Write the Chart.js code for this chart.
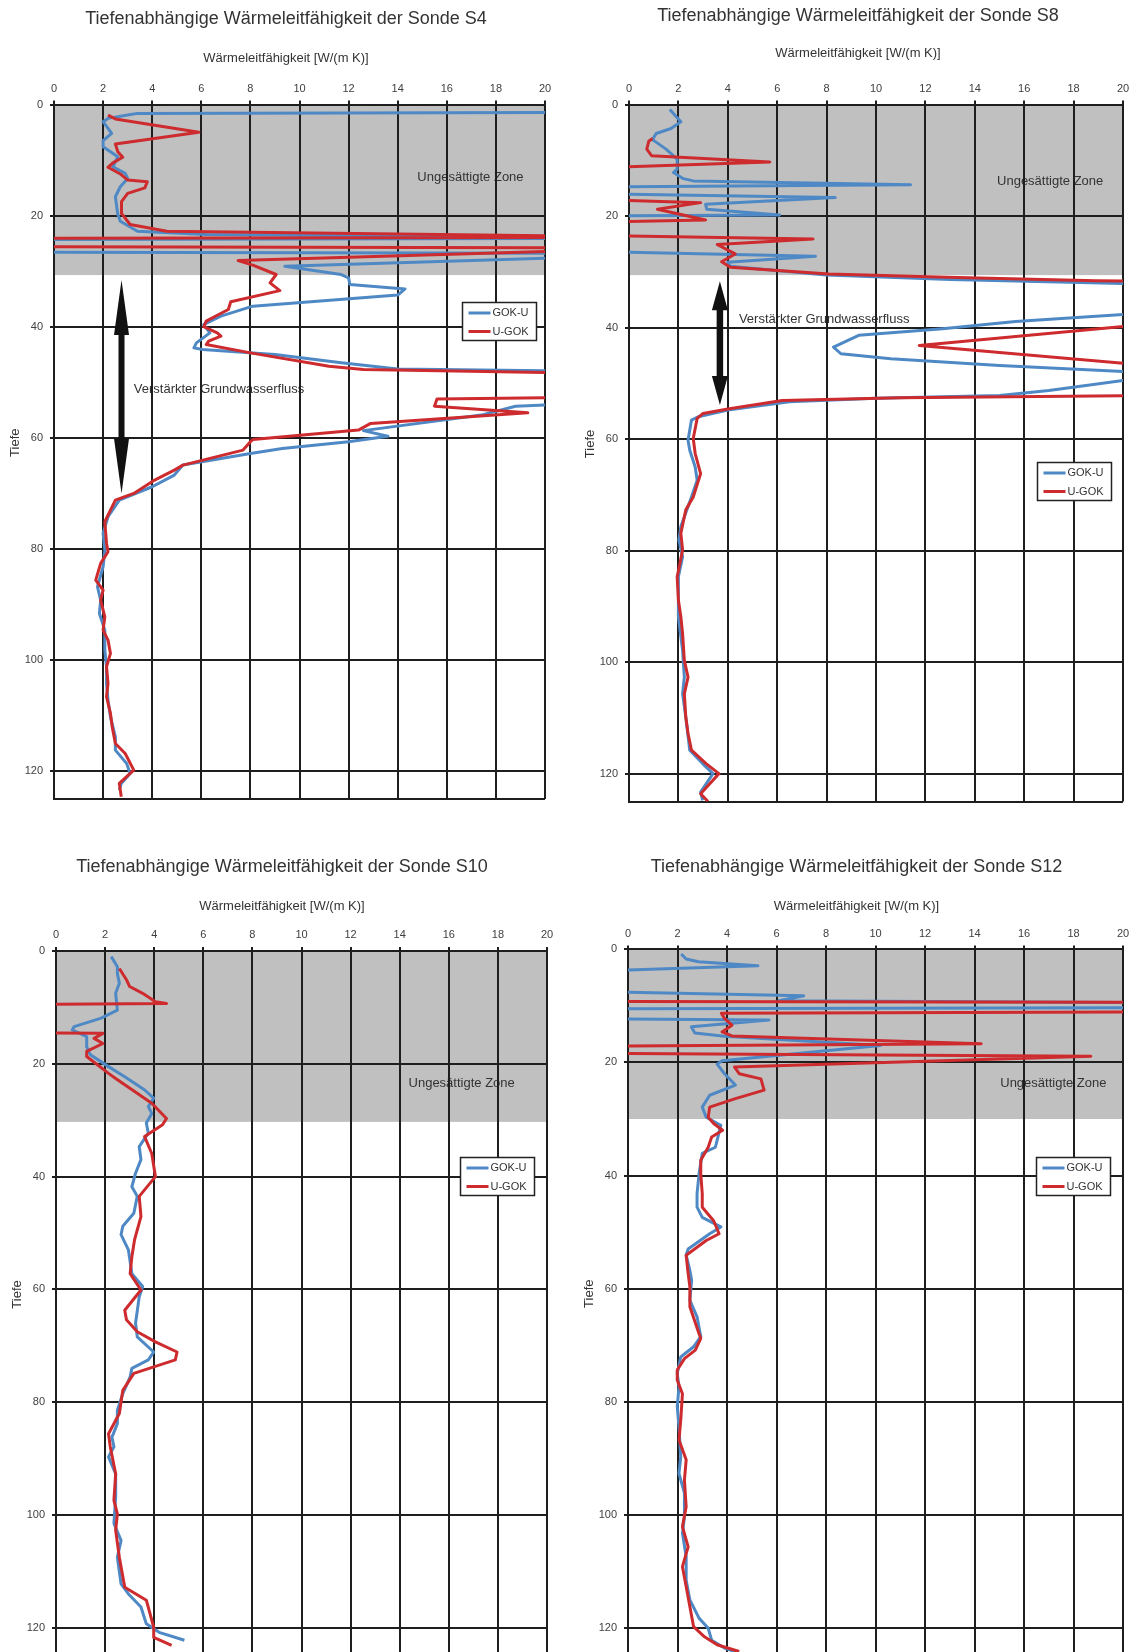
<!DOCTYPE html>
<html lang="de">
<head>
<meta charset="utf-8">
<title>Tiefenabhängige Wärmeleitfähigkeit</title>
<script src="https://cdn.jsdelivr.net/npm/chart.js@4.4.1/dist/chart.umd.min.js"></script>
<style>
  html, body { margin: 0; padding: 0; background: #fff; }
  #page { position: relative; width: 1135px; height: 1652px; overflow: hidden; }
  #page canvas { position: absolute; }
</style>
</head>
<body>
<div id="page">
  <canvas id="s4"></canvas>
  <canvas id="s8"></canvas>
  <canvas id="s10"></canvas>
  <canvas id="s12"></canvas>
</div>
<script>
// achsen
const condTicks = [0, 2, 4, 6, 8, 10, 12, 14, 16, 18, 20];
const depthTicks = [0, 20, 40, 60, 80, 100, 120];
const depthMax = 125;
const seriesNames = ['GOK-U', 'U-GOK'];
// untere grenze der ungesaettigten zone (m), S4, S8, S10, S12
const zoneBottom = [30.7, 30.6, 30.3, 30.0];

// S4 (werte > 20 bzw. < 0 liegen ausserhalb der skala)
const s4GokDepth = [1.4, 1.6, 1.9, 2.5, 3.1, 5.2, 6.5, 7.6, 9.4, 11.2, 12.4, 13.3, 14.8, 16.6, 19.8, 21.0, 22.8, 23.4, 24.1, 24.3, 26.6, 26.8, 27.6, 29.1, 30.6, 31.2, 32.4, 33.2, 34.3, 36.3, 38.1, 39.6, 41.1, 42.9, 43.8, 44.1, 45.0, 46.5, 47.6, 48.2, 54.0, 54.3, 55.9, 58.7, 59.7, 60.7, 61.9, 62.8, 64.9, 66.7, 68.8, 71.2, 74.2, 77.2, 80.2, 83.2, 86.8, 89.2, 91.6, 94.6, 98.2, 101.2, 104.2, 107.2, 110.2, 113.8, 116.2, 118.6, 120.4, 122.2, 123.4];
const s4GokK = [25, 3.4, 3.0, 2.2, 2.0, 2.35, 2.0, 2.0, 2.6, 2.4, 2.9, 3.0, 2.7, 2.5, 2.6, 2.7, 3.4, 6.2, 25, -1, -1, 25, 20.5, 9.4, 11.7, 12.0, 12.05, 14.3, 14.0, 8.1, 6.8, 6.1, 6.35, 5.8, 5.7, 6.05, 9.0, 11.7, 14.0, 25, 20.5, 18.8, 17.4, 12.6, 13.6, 12.0, 9.3, 8.0, 5.25, 4.9, 4.0, 2.66, 2.2, 2.0, 2.07, 2.0, 1.77, 1.9, 1.85, 2.07, 2.07, 2.14, 2.14, 2.2, 2.3, 2.5, 2.5, 2.96, 3.1, 2.74, 2.66];
const s4UgokDepth = [1.9, 2.6, 5.0, 7.1, 8.5, 9.5, 10.5, 11.3, 12.5, 13.6, 13.9, 15.0, 16.0, 17.5, 19.6, 21.6, 22.8, 23.9, 24.1, 25.6, 25.8, 26.2, 28.1, 28.9, 30.6, 32.1, 33.5, 35.5, 36.9, 39.0, 40.0, 41.1, 41.7, 42.6, 43.2, 44.7, 47.1, 47.7, 48.6, 52.5, 53.0, 54.3, 55.5, 57.4, 58.6, 60.3, 60.7, 62.2, 64.9, 65.8, 67.6, 70.0, 71.2, 73.0, 75.1, 79.0, 80.5, 82.6, 85.6, 87.4, 89.2, 92.2, 94.6, 96.4, 98.8, 101.2, 104.2, 106.6, 109.6, 112.0, 115.0, 116.8, 119.8, 122.2, 124.6];
const s4UgokK = [2.2, 2.5, 5.9, 2.5, 2.6, 2.8, 2.4, 2.2, 2.7, 3.0, 3.8, 3.7, 3.0, 2.75, 2.75, 3.1, 4.6, 25, -1, -1, 25, 22, 7.5, 8.1, 9.05, 8.8, 9.2, 7.2, 7.1, 6.2, 6.1, 6.65, 6.8, 6.3, 6.2, 8.0, 11.2, 12.6, 25, 25, 15.6, 15.5, 19.3, 12.9, 12.4, 8.1, 8.0, 7.7, 5.25, 4.9, 4.1, 3.25, 2.5, 2.3, 2.07, 2.14, 2.2, 1.9, 1.7, 2.0, 1.9, 2.07, 2.0, 2.2, 2.3, 2.14, 2.2, 2.14, 2.3, 2.37, 2.5, 2.9, 3.25, 2.66, 2.74];

// S8
const s8GokDepth = [0.9, 3.1, 4.3, 5.2, 6.3, 8.0, 9.8, 11.6, 12.2, 13.3, 13.7, 14.4, 14.8, 16.0, 16.7, 17.9, 18.8, 19.8, 20.0, 26.4, 27.2, 28.3, 29.0, 30.6, 31.4, 32.6, 37.5, 38.9, 40.2, 41.4, 43.5, 44.7, 45.6, 46.8, 48.0, 48.3, 49.2, 51.3, 52.2, 52.7, 53.3, 54.8, 56.0, 56.6, 60.2, 62.0, 65.0, 67.4, 70.4, 75.7, 78.1, 81.1, 84.7, 91.9, 97.9, 102.7, 105.7, 109.9, 115.8, 118.2, 120.0, 123.3, 124.8];
const s8GokK = [1.65, 2.1, 1.7, 1.1, 0.95, 1.5, 1.95, 1.95, 1.8, 2.2, 2.6, 11.4, -1, -1, 8.35, 3.1, 3.15, 6.1, -1, -1, 7.55, 4.0, 4.1, 8.0, 13.0, 25, 20.5, 15.65, 12.7, 9.3, 8.28, 8.58, 10.6, 15.0, 20.5, 25, 20.5, 17.0, 15.0, 10.0, 6.5, 4.0, 2.8, 2.53, 2.39, 2.46, 2.68, 2.76, 2.53, 2.1, 2.02, 2.17, 2.0, 2.0, 2.17, 2.24, 2.17, 2.3, 2.46, 2.98, 3.4, 2.9, 2.98];
const s8UgokDepth = [6.1, 6.6, 8.0, 9.2, 10.3, 11.3, 17.1, 17.6, 18.8, 20.7, 21.1, 23.5, 24.1, 25.1, 26.8, 28.2, 29.2, 30.4, 31.0, 31.6, 32.0, 39.7, 43.2, 46.5, 46.8, 52.0, 52.2, 52.6, 53.1, 54.6, 55.4, 56.3, 59.9, 62.6, 66.2, 70.4, 72.7, 76.9, 79.9, 84.7, 88.9, 91.9, 94.9, 99.7, 102.7, 105.7, 109.9, 112.8, 115.8, 118.2, 120.0, 121.8, 123.6, 125.0];
const s8UgokK = [0.95, 0.8, 0.72, 0.92, 5.7, -1, -1, 2.9, 1.15, 3.1, -1, -1, 7.45, 3.57, 4.3, 3.75, 4.1, 8.1, 12.9, 18.9, 25, 20.3, 11.75, 20.3, 25, 25, 20.3, 11.0, 6.2, 4.0, 3.0, 2.76, 2.6, 2.68, 2.9, 2.6, 2.3, 2.1, 2.17, 1.95, 2.0, 2.1, 2.17, 2.24, 2.39, 2.24, 2.3, 2.39, 2.53, 3.12, 3.64, 3.27, 2.9, 3.2];

// S10
const s10GokDepth = [1.0, 2.8, 4.0, 5.7, 7.5, 10.5, 11.9, 13.4, 14.0, 15.2, 17.0, 18.4, 20.5, 22.3, 24.6, 26.1, 27.6, 28.8, 30.5, 32.3, 34.7, 37.0, 39.4, 41.8, 43.5, 46.5, 48.8, 50.3, 53.0, 57.2, 59.5, 61.3, 66.0, 68.4, 71.1, 72.5, 74.0, 75.5, 78.5, 81.4, 83.8, 86.2, 87.9, 89.7, 92.7, 96.8, 101.5, 104.5, 107.5, 112.2, 114.0, 116.3, 119.3, 120.8, 122.2];
const s10GokK = [2.25, 2.5, 2.5, 2.58, 2.43, 2.5, 1.84, 0.74, 0.66, 1.25, 1.25, 1.4, 2.14, 2.8, 3.6, 3.98, 3.76, 3.9, 3.68, 3.76, 3.39, 3.46, 3.24, 3.09, 3.31, 3.17, 2.72, 2.65, 2.95, 3.09, 3.53, 3.39, 3.24, 3.31, 3.98, 3.76, 3.09, 3.02, 2.72, 2.5, 2.5, 2.28, 2.36, 2.14, 2.43, 2.43, 2.36, 2.65, 2.5, 2.65, 2.95, 3.46, 3.68, 4.2, 5.23];
const s10UgokDepth = [3.1, 5.1, 6.3, 7.5, 9.0, 9.3, 9.5, 14.5, 14.6, 15.5, 16.4, 17.8, 18.7, 21.7, 22.6, 27.0, 29.7, 30.8, 32.9, 35.9, 40.0, 43.5, 47.1, 51.2, 54.2, 57.2, 60.1, 63.7, 65.4, 67.5, 69.3, 71.1, 72.5, 74.9, 77.9, 82.0, 85.6, 87.9, 92.7, 97.4, 99.8, 102.7, 107.5, 112.8, 115.1, 119.9, 121.7, 123.1];
const s10UgokK = [2.58, 2.87, 3.0, 3.53, 4.05, 4.5, -1, -1, 1.91, 1.55, 1.91, 1.25, 1.25, 2.14, 2.43, 3.9, 4.5, 4.34, 3.61, 3.9, 4.05, 3.39, 3.46, 3.2, 3.09, 3.02, 3.46, 2.8, 2.87, 3.31, 4.05, 4.93, 4.86, 3.17, 2.72, 2.58, 2.14, 2.21, 2.43, 2.36, 2.5, 2.43, 2.58, 2.8, 3.68, 3.98, 3.98, 4.71];

// S12
const s12GokDepth = [0.8, 1.7, 2.2, 2.9, 3.8, 7.5, 8.2, 9.1, 9.5, 10.3, 10.5, 12.3, 12.5, 13.7, 14.8, 15.35, 17.0, 19.7, 20.3, 22.0, 24.0, 25.8, 27.9, 29.7, 31.1, 33.8, 35.0, 36.1, 39.7, 43.2, 45.6, 47.4, 49.1, 50.3, 53.0, 54.1, 56.8, 58.5, 62.1, 65.0, 68.5, 70.3, 72.1, 75.0, 77.4, 80.9, 84.5, 89.8, 92.7, 96.2, 100.4, 103.3, 107.4, 111.6, 115.1, 118.3, 120.1, 122.2, 123.6, 124.5];
const s12GokK = [2.15, 2.35, 2.85, 5.25, -1, -1, 7.1, 6.1, 25, 25, -1, -1, 5.7, 2.56, 2.7, 3.9, 10.2, 3.8, 3.6, 3.9, 4.34, 3.3, 3.0, 3.16, 3.75, 3.6, 3.53, 3.0, 2.87, 2.79, 2.79, 3.0, 3.75, 3.3, 2.43, 2.35, 2.5, 2.57, 2.5, 2.79, 2.94, 2.65, 2.13, 1.99, 2.06, 1.99, 2.06, 2.13, 2.06, 2.28, 2.28, 2.2, 2.35, 2.35, 2.5, 2.87, 3.24, 3.38, 3.9, 4.49];
const s12UgokDepth = [9.2, 9.4, 11.0, 11.3, 12.2, 13.4, 14.6, 15.3, 16.7, 17.1, 18.4, 18.9, 20.8, 22.0, 22.9, 24.9, 26.4, 27.9, 29.7, 30.8, 32.0, 33.2, 35.0, 37.3, 39.7, 43.2, 45.6, 48.0, 50.3, 51.5, 54.1, 57.3, 59.7, 63.2, 68.0, 68.8, 70.9, 72.4, 74.4, 76.2, 78.6, 83.3, 86.8, 90.3, 93.9, 98.6, 102.1, 105.7, 109.2, 112.7, 116.3, 119.8, 121.6, 123.0, 124.2];
const s12UgokK = [-1, 25, 25, 3.77, 3.9, 4.2, 3.8, 4.2, 14.27, -1, -1, 18.7, 4.3, 4.5, 5.37, 5.5, 4.34, 3.3, 3.24, 3.46, 3.82, 3.38, 3.24, 2.94, 2.94, 3.0, 3.0, 3.46, 3.68, 3.16, 2.35, 2.43, 2.5, 2.5, 2.87, 2.94, 2.72, 2.28, 1.99, 1.99, 2.2, 2.13, 2.06, 2.35, 2.28, 2.35, 2.2, 2.43, 2.2, 2.35, 2.5, 2.65, 3.09, 3.6, 4.49];

const BLUE = '#4f89c5';
const RED = '#cd2b2e';
const GRID = '#1e1e1e';
const TEXT = '#333';
const FONT = '"Liberation Sans", Arial, sans-serif';
Chart.defaults.font.family = FONT;

// lage der einzelnen diagramme auf der seite
const layouts = {
  S4:  {left: 0,   top: 0,   w: 572, h: 805, tc: 19.5, sc: 58,   ct: 104.5, pb: 6,   pr: 27},
  S8:  {left: 575, top: 0,   w: 566, h: 808, tc: 16.5, sc: 53,   ct: 104.5, pb: 6.5, pr: 18},
  S10: {left: 2,   top: 847, w: 560, h: 815, tc: 19.7, sc: 59.7, ct: 104,   pb: 6,   pr: 15},
  S12: {left: 574, top: 845, w: 565, h: 817, tc: 21.7, sc: 61.7, ct: 104.4, pb: 6,   pr: 16}
};

// beschriftungen, pfeil und legende (in achsenwerten)
const notes = {
  S4:  {zone: [14.8, 13.2], flow: [3.25, 51.3], arrow: {x: 2.75, from: 31.6, to: 70, head: 55, hw: 15, sw: 6}, legend: [16.6, 35.6]},
  S8:  {zone: [14.9, 13.85], flow: [4.45, 38.6], arrow: {x: 3.68, from: 31.7, to: 53.9, head: 29, hw: 16, sw: 6.5}, legend: [16.5, 64.2]},
  S10: {zone: [14.36, 23.5], legend: [16.47, 36.5]},
  S12: {zone: [15.04, 23.7], legend: [16.47, 36.8]}
};

const toPoints = (depth, k) => depth.map((d, i) => ({x: k[i], y: d}));

function profilePlugin(note, zone) {
  return {
    id: 'profile',
    beforeDraw(chart) {
      const {ctx, chartArea: a, scales: {x, y}} = chart;
      ctx.save();
      ctx.fillStyle = '#c0c0c0';
      ctx.fillRect(a.left, a.top, a.right - a.left, y.getPixelForValue(zone) - a.top);
      ctx.fillStyle = TEXT;
      ctx.font = '13px ' + FONT;
      ctx.textBaseline = 'middle';
      ctx.fillText('Ungesättigte Zone', x.getPixelForValue(note.zone[0]), y.getPixelForValue(note.zone[1]));
      if (note.flow) {
        ctx.fillText('Verstärkter Grundwasserfluss', x.getPixelForValue(note.flow[0]), y.getPixelForValue(note.flow[1]));
      }
      ctx.restore();
    },
    beforeDatasetsDraw(chart) {
      const ar = note.arrow;
      if (!ar) return;
      const {ctx, scales: {x, y}} = chart;
      const px = x.getPixelForValue(ar.x);
      const y1 = y.getPixelForValue(ar.from);
      const y2 = y.getPixelForValue(ar.to);
      ctx.save();
      ctx.fillStyle = '#111';
      ctx.beginPath();
      ctx.moveTo(px, y1);
      ctx.lineTo(px + ar.hw / 2, y1 + ar.head);
      ctx.lineTo(px + ar.sw / 2, y1 + ar.head);
      ctx.lineTo(px + ar.sw / 2, y2 - ar.head);
      ctx.lineTo(px + ar.hw / 2, y2 - ar.head);
      ctx.lineTo(px, y2);
      ctx.lineTo(px - ar.hw / 2, y2 - ar.head);
      ctx.lineTo(px - ar.sw / 2, y2 - ar.head);
      ctx.lineTo(px - ar.sw / 2, y1 + ar.head);
      ctx.lineTo(px - ar.hw / 2, y1 + ar.head);
      ctx.closePath();
      ctx.fill();
      ctx.restore();
    },
    afterDraw(chart) {
      const {ctx, scales: {x, y}} = chart;
      const lx = Math.round(x.getPixelForValue(note.legend[0])) + 0.5;
      const ly = Math.round(y.getPixelForValue(note.legend[1])) + 0.5;
      ctx.save();
      ctx.fillStyle = '#fff';
      ctx.fillRect(lx, ly, 74, 38);
      ctx.strokeStyle = '#222';
      ctx.lineWidth = 1.5;
      ctx.strokeRect(lx, ly, 74, 38);
      ctx.font = '11px ' + FONT;
      ctx.textBaseline = 'middle';
      chart.data.datasets.forEach((ds, i) => {
        const ry = ly + 10.5 + i * 18.5;
        ctx.strokeStyle = ds.borderColor;
        ctx.lineWidth = 3;
        ctx.beginPath();
        ctx.moveTo(lx + 6, ry);
        ctx.lineTo(lx + 28, ry);
        ctx.stroke();
        ctx.fillStyle = TEXT;
        ctx.fillText(ds.label, lx + 30, ry);
      });
      ctx.restore();
    }
  };
}

function makeChart(key, gok, ugok, zone) {
  const L = layouts[key];
  const cv = document.getElementById(key.toLowerCase());
  cv.width = L.w;
  cv.height = L.h;
  cv.style.left = L.left + 'px';
  cv.style.top = L.top + 'px';
  const line = {showLine: true, pointRadius: 0, borderWidth: 3, tension: 0, fill: false, borderJoinStyle: 'round'};
  return new Chart(cv, {
    type: 'scatter',
    data: {
      datasets: [
        Object.assign({label: seriesNames[0], data: toPoints(gok[0], gok[1]), borderColor: BLUE, backgroundColor: BLUE, order: 2}, line),
        Object.assign({label: seriesNames[1], data: toPoints(ugok[0], ugok[1]), borderColor: RED, backgroundColor: RED, order: 1}, line)
      ]
    },
    options: {
      responsive: false,
      animation: false,
      devicePixelRatio: 1,
      layout: {padding: {left: 0, top: 0, right: 0, bottom: L.pb}},
      plugins: {
        legend: {display: false},
        tooltip: {enabled: false},
        title: {
          display: true,
          text: 'Tiefenabhängige Wärmeleitfähigkeit der Sonde ' + key,
          color: TEXT,
          font: {size: 18, weight: 'normal', lineHeight: 1.2},
          padding: {top: L.tc - 10.8, bottom: 0}
        },
        subtitle: {
          display: true,
          text: 'Wärmeleitfähigkeit [W/(m K)]',
          color: TEXT,
          font: {size: 13, weight: 'normal', lineHeight: 1.2},
          padding: {top: L.sc - 7.8 - (L.tc + 10.8), bottom: 0}
        }
      },
      scales: {
        x: {
          type: 'linear', position: 'top', min: 0, max: 20,
          afterBuildTicks: s => { s.ticks = condTicks.map(v => ({value: v})); },
          afterFit: s => { s.height = L.ct - (L.sc + 7.8); },
          ticks: {color: '#404040', font: {size: 11}, padding: 5, maxRotation: 0, autoSkip: false},
          grid: {color: GRID, lineWidth: 2, tickLength: 4},
          border: {color: GRID, width: 2}
        },
        y: {
          type: 'linear', reverse: true, min: 0, max: depthMax,
          afterBuildTicks: s => { s.ticks = depthTicks.concat([depthMax]).map(v => ({value: v})); },
          afterFit: s => { s.width = 54; s.paddingTop = 0; s.paddingBottom = 0; },
          ticks: {
            color: '#404040', font: {size: 11}, padding: 7, autoSkip: false,
            callback: v => depthTicks.includes(v) ? String(v) : ''
          },
          grid: {
            color: GRID, lineWidth: 2, tickLength: 4,
            tickColor: c => (c.tick && depthTicks.includes(c.tick.value)) ? GRID : 'rgba(0,0,0,0)'
          },
          border: {color: GRID, width: 2},
          title: {display: true, text: '     Tiefe', color: TEXT, font: {size: 13}, padding: {top: 8, bottom: 0}}
        },
        // leerer rand rechts, damit die titel ueber die ganze breite zentriert sind
        yRight: {
          axis: 'y', type: 'linear', position: 'right', display: true,
          afterFit: s => { s.width = L.pr; s.paddingTop = 0; s.paddingBottom = 0; },
          ticks: {display: false},
          grid: {display: false, drawTicks: false},
          border: {display: false}
        }
      }
    },
    plugins: [profilePlugin(notes[key], zone)]
  });
}

makeChart('S4', [s4GokDepth, s4GokK], [s4UgokDepth, s4UgokK], zoneBottom[0]);
makeChart('S8', [s8GokDepth, s8GokK], [s8UgokDepth, s8UgokK], zoneBottom[1]);
makeChart('S10', [s10GokDepth, s10GokK], [s10UgokDepth, s10UgokK], zoneBottom[2]);
makeChart('S12', [s12GokDepth, s12GokK], [s12UgokDepth, s12UgokK], zoneBottom[3]);
</script>
</body>
</html>
